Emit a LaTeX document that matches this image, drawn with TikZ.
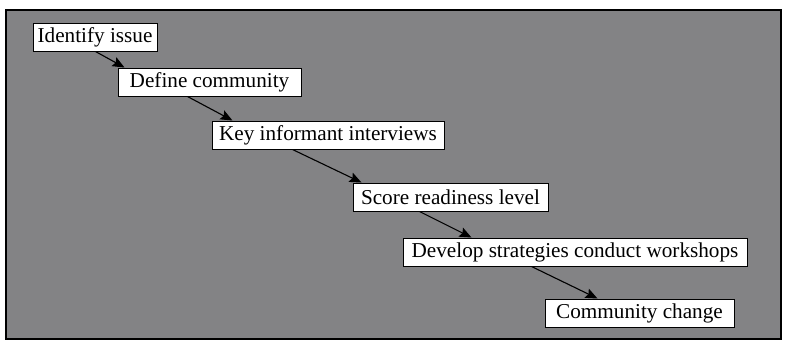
\documentclass[tikz,border=0pt]{standalone}
\usepackage{fontspec}
\setmainfont{Liberation Serif}
\usetikzlibrary{arrows.meta}
\definecolor{panelgray}{RGB}{131,131,133}
\begin{document}
\begin{tikzpicture}[x=1pt,y=-1pt,
  stage/.style={draw=black, line width=1pt, fill=white, inner sep=0pt,
    minimum height=28pt, font=\fontsize{21.2}{23}\selectfont},
  flow/.style={line width=1.1pt, -{Stealth[length=12pt,width=10pt,inset=2pt]}}]
  \useasboundingbox (0,0) rectangle (787,341);
  \draw[line width=1.3pt, fill=panelgray] (6,10) rectangle (781,339);

  \node[stage, minimum width=124pt] (s1) at (95,37) {Identify issue};
  \node[stage, minimum width=183pt] (s2) at (209.5,82) {Define community};
  \node[stage, minimum width=232pt] (s3) at (328,135) {Key informant interviews};
  \node[stage, minimum width=195pt] (s4) at (450.5,197) {Score readiness level};
  \node[stage, minimum width=344pt] (s5) at (575,252) {Develop strategies conduct workshops};
  \node[stage, minimum width=189pt] (s6) at (639.5,313) {Community change};

  \draw[flow] ([xshift=63pt]s1.south west) -- ([xshift=7pt]s2.north west);
  \draw[flow] ([xshift=70pt]s2.south west) -- ([xshift=21pt]s3.north west);
  \draw[flow] ([xshift=81pt]s3.south west) -- ([xshift=9pt]s4.north west);
  \draw[flow] ([xshift=67pt]s4.south west) -- ([xshift=69pt]s5.north west);
  \draw[flow] ([xshift=129pt]s5.south west) -- ([xshift=53pt]s6.north west);
\end{tikzpicture}
\end{document}
